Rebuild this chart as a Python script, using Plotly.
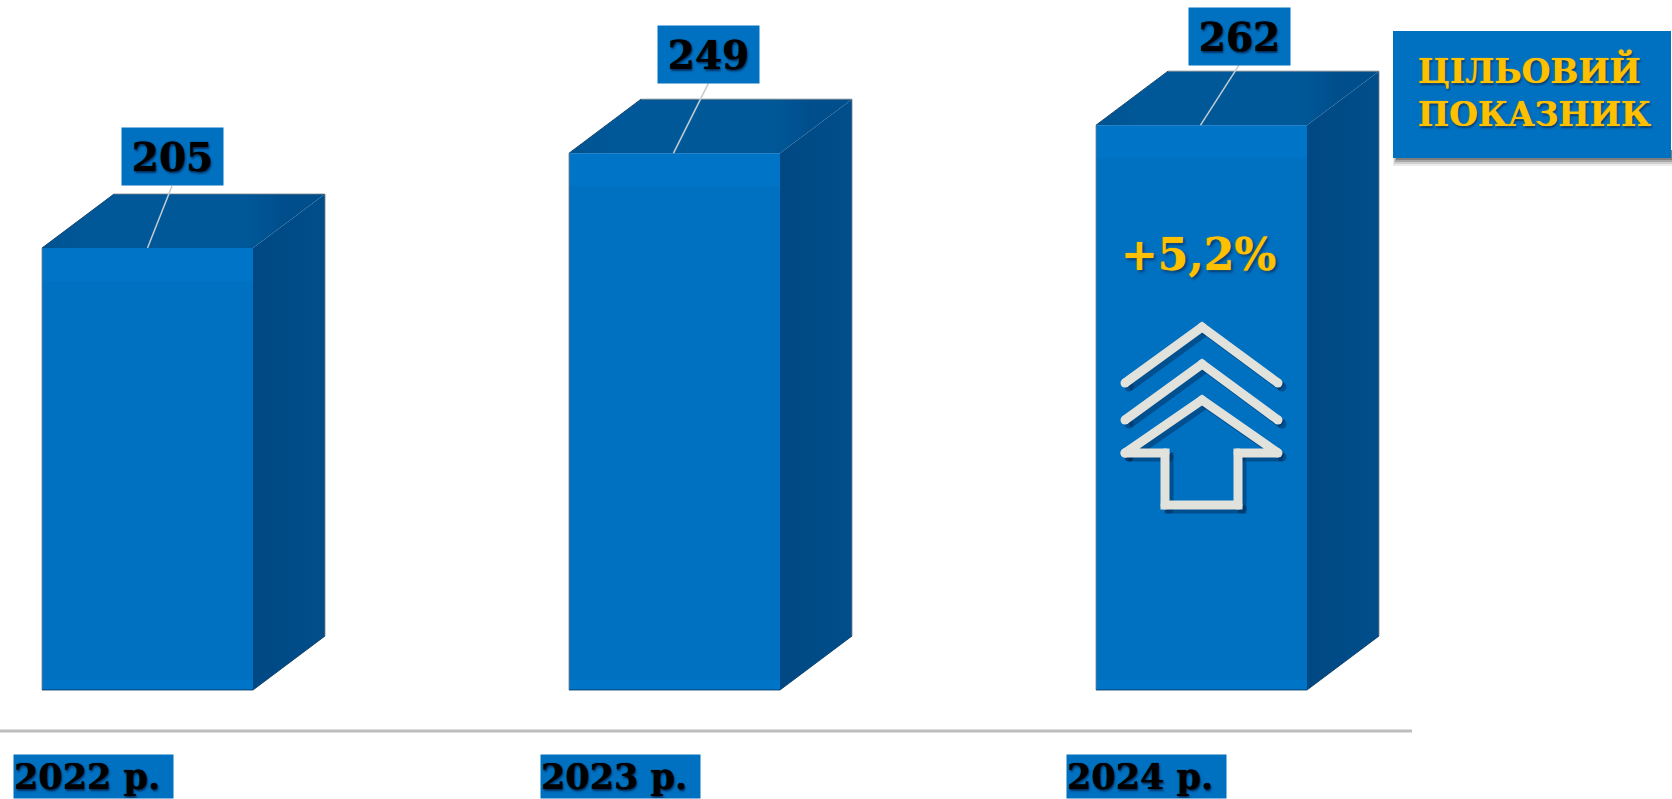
import plotly.graph_objects as go

# ---- data ----
years = ["2022 р.", "2023 р.", "2024 р."]
values = [205, 249, 262]
target_title = "ЦІЛЬОВИЙ<br>ПОКАЗНИК"
growth_label = "+5,2%"

# ---- geometry of the canvas / axes ----
W, H = 1672, 799
PX_PER_CAT = 527.0
PX_PER_UNIT = 2.156
X0_PX = 147.5      # pixel of category 0
Y0_PX = 690.0      # pixel of value 0
BAR_W = 211 / PX_PER_CAT
DEPTH_X = 72 / PX_PER_CAT
DEPTH_Y = 54 / PX_PER_UNIT

FRONT = "#0070C0"
GOLD = "#FFC000"
FONT = "DejaVu Serif"

# label-box offsets from the bar's top-centre, in pixels
label_dx = [24.5, 34, 37.5]
label_dy = [-91.5, -99, -88.5]
leader_top = [-62, -70, -60]
leader_shift = [0, -1, -1]
year_shift = [-54, -54, -55]


def px_x(px):
    return (px - X0_PX) / PX_PER_CAT


def px_y(py):
    return (Y0_PX - py) / PX_PER_UNIT


fig = go.Figure()

fig.add_trace(go.Bar(x=[0, 1, 2], y=values, width=BAR_W,
                     marker=dict(color=FRONT, line=dict(width=0))))

for i, v in enumerate(values):
    l, r = i - BAR_W / 2, i + BAR_W / 2
    # top face: blends into the side face at its right end
    fig.add_trace(go.Scatter(
        x=[l, r, r + DEPTH_X, l + DEPTH_X, l],
        y=[v, v, v + DEPTH_Y, v + DEPTH_Y, v],
        mode="lines", fill="toself", line=dict(width=0),
        fillgradient=dict(type="horizontal", colorscale=[
            [0, "#00528F"], [0.15, "#005898"], [0.72, "#005898"], [0.86, "#004E8B"], [1, "#004E8B"]]),
    ))
    # side face
    fig.add_trace(go.Scatter(
        x=[r, r + DEPTH_X, r + DEPTH_X, r, r],
        y=[0, DEPTH_Y, v + DEPTH_Y, v, 0],
        mode="lines", fill="toself", line=dict(width=0),
        fillgradient=dict(type="horizontal", colorscale=[
            [0, "#004883"], [0.5, "#004B87"], [1, "#004E8B"]]),
    ))
    # lighter bevel bands on the front face
    for lo, hi in ((v - 33 / PX_PER_UNIT, v), (0, 10 / PX_PER_UNIT)):
        fig.add_trace(go.Scatter(
            x=[l, r, r, l, l], y=[lo, lo, hi, hi, lo], mode="lines", fill="toself",
            line=dict(width=0), fillcolor="rgba(0,125,215,0.30)",
        ))
    # soft grey silhouette edges
    fig.add_trace(go.Scatter(
        x=[l, l, None, l + DEPTH_X, r + DEPTH_X, r + DEPTH_X],
        y=[0, v, None, v + DEPTH_Y, v + DEPTH_Y, DEPTH_Y], mode="lines",
        line=dict(width=1, color="rgba(120,125,130,0.8)"),
    ))
    # dark slanted and lower edges
    fig.add_trace(go.Scatter(
        x=[l, l + DEPTH_X, None, l, r, r + DEPTH_X],
        y=[v, v + DEPTH_Y, None, 0, 0, DEPTH_Y], mode="lines",
        line=dict(width=1, color="rgba(0,50,95,0.8)"),
    ))
    # leader line
    fig.add_trace(go.Scatter(
        x=[i + leader_shift[i] / PX_PER_CAT, i + label_dx[i] / PX_PER_CAT],
        y=[v, v - leader_top[i] / PX_PER_UNIT],
        mode="lines", line=dict(width=1.5, color="#C3CBD3"),
    ))

# ---- arrow icon on the last bar ----
chevrons = [
    ([1125, 1202, 1278], [383, 327, 383]),
    ([1125, 1202, 1278], [420, 364, 420]),
    ([1125, 1202, 1278, 1238, 1238, 1165, 1165, 1125], [453, 400, 453, 453, 505, 505, 453, 453]),
]
for off, col in ((4, "rgba(0,30,70,0.40)"), (0, "#E2E2DC")):
    for xs, ys in chevrons:
        fig.add_trace(go.Scatter(
            x=[px_x(a + off) for a in xs], y=[px_y(b + off) for b in ys],
            mode="lines+markers", marker=dict(size=9, color=col),
            line=dict(width=9, color=col),
        ))

shapes = [
    dict(type="line", xref="paper", yref="paper", x0=0, x1=1412 / W,
         y0=1 - 731 / H, y1=1 - 731 / H, line=dict(color="#BDBDBD", width=3)),
]
# soft shadow + box of the target note
for grow, a in ((8, 0.08), (6, 0.12), (4, 0.18), (2, 0.25)):
    shapes.append(dict(type="rect", xref="paper", yref="paper", layer="below",
                       x0=(1397 - grow / 2) / W, x1=1672 / W,
                       y0=1 - (158 + grow) / H, y1=1 - 150 / H,
                       fillcolor=f"rgba(0,0,0,{a})", line=dict(width=0)))
shapes.append(dict(type="rect", xref="paper", yref="paper", x0=1393 / W, x1=1671 / W,
                   y0=1 - 158 / H, y1=1 - 31 / H, fillcolor=FRONT, line=dict(width=0)))

annotations = []
shadow_dark = "0 0 1px black, 1px 2px 2px rgba(0,0,30,0.55)"
for i, v in enumerate(values):
    annotations.append(dict(
        x=i, y=v, xref="x", yref="y", xshift=label_dx[i], yshift=-label_dy[i],
        text=f"<b>{v}</b>", showarrow=False, bgcolor=FRONT, width=99, height=55,
        font=dict(family=FONT, size=39, color="black", shadow=shadow_dark),
    ))
    annotations.append(dict(
        x=i, y=0, xref="x", yref="paper", xshift=year_shift[i], yanchor="bottom", xanchor="center",
        text=f"<b>{years[i]}</b>", showarrow=False, bgcolor=FRONT, width=159, height=43,
        align="left", borderpad=0, yshift=0,
        font=dict(family=FONT, size=35, color="black", shadow=shadow_dark),
    ))
annotations.append(dict(
    x=2, y=px_y(254), xref="x", yref="y", xshift=-3, text=f"<b>{growth_label}</b>", showarrow=False,
    font=dict(family=FONT, size=44, color=GOLD, shadow="0 0 1px #FFC000, 2px 2px 3px rgba(0,0,30,0.5)"),
))
annotations.append(dict(
    x=1416 / W, y=1 - 91 / H, xref="paper", yref="paper", xanchor="left", yanchor="middle",
    align="left", text=f"<b>{target_title}</b>", showarrow=False,
    font=dict(family=FONT, size=33, color=GOLD, shadow="0 0 1px #FFC000, 1px 2px 2px rgba(0,0,30,0.5)"),
))

fig.update_layout(
    width=W, height=H, margin=dict(l=0, r=0, t=0, b=0),
    paper_bgcolor="white", plot_bgcolor="white", showlegend=False, hovermode=False,
    xaxis=dict(visible=False, range=[px_x(0), px_x(W)], fixedrange=True),
    yaxis=dict(visible=False, range=[px_y(H), px_y(0)], fixedrange=True),
    shapes=shapes, annotations=annotations,
)

fig.write_html("out.html", config=dict(displayModeBar=False),
               post_script="document.body.style.margin='0';document.documentElement.style.overflow='hidden';")
